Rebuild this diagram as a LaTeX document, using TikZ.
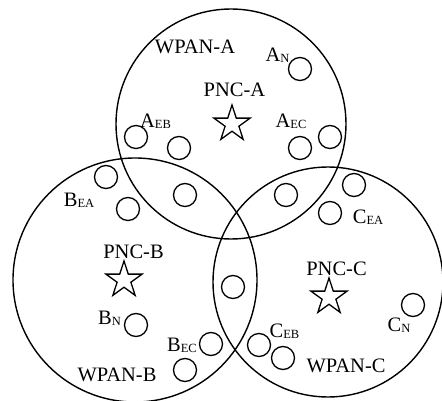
\documentclass[tikz,border=0pt]{standalone}
\usepackage{fontspec}
\setmainfont{Liberation Serif}
\usetikzlibrary{shapes.geometric}
\newcommand{\sbs}[1]{{\fontsize{12.5}{12.5}\selectfont\raisebox{-1pt}{#1}}}
\tikzset{
  bigc/.style={draw, circle, line width=1.4pt, inner sep=0pt},
  smallc/.style={draw, circle, line width=1.3pt, inner sep=0pt, minimum size=23pt},
  pnc/.style={draw, star, star points=5, star point ratio=2.618, line width=1.3pt, inner sep=0pt, minimum size=38pt},
  lbl/.style={font=\fontsize{20.5}{20.5}\selectfont, inner sep=0pt}
}
\begin{document}
\begin{tikzpicture}[x=1pt, y=-1pt]
\useasboundingbox (0,0) rectangle (442,401);
% big circles
\node[bigc, minimum size=230pt] (wA) at (231,124) {};
\node[bigc, minimum size=244pt] (wB) at (135,280) {};
\node[bigc, minimum size=230pt] (wC) at (328,282) {};
% stars
\node[pnc] (pA) at (232,124) {};
\node[pnc] (pB) at (124,280) {};
\node[pnc] (pC) at (329,297) {};
% small circles
\node[smallc] (an) at (300,69) {};
\node[smallc] (aeb) at (136,137) {};
\node[smallc] (a2) at (179,148) {};
\node[smallc] (aec) at (300,148) {};
\node[smallc] (a3) at (330,137) {};
\node[smallc] (ab1) at (106,177) {};
\node[smallc] (ab2) at (185,195) {};
\node[smallc] (bea) at (128,209) {};
\node[smallc] (bn) at (136,325) {};
\node[smallc] (bec) at (211,344) {};
\node[smallc] (b2) at (185,370) {};
\node[smallc] (ac1) at (286,195) {};
\node[smallc] (ac2) at (354,185) {};
\node[smallc] (cea) at (330,213) {};
\node[smallc] (bc1) at (233,287) {};
\node[smallc] (cn) at (413,305) {};
\node[smallc] (ceb) at (259,345) {};
\node[smallc] (c2) at (283,358) {};
% labels
\node[lbl] (lwA) at (195,47) {WPAN-A};
\node[lbl] (lan) at (277.5,55.5) {A\sbs{N}};
\node[lbl] (lpA) at (234.5,90) {PNC-A};
\node[lbl] (laeb) at (155.5,121) {A\sbs{EB}};
\node[lbl] (laec) at (291,121) {A\sbs{EC}};
\node[lbl] (lbea) at (79,200) {B\sbs{EA}};
\node[lbl] (lpB) at (133.5,252) {PNC-B};
\node[lbl] (lbn) at (109.5,318) {B\sbs{N}};
\node[lbl] (lbec) at (182,345) {B\sbs{EC}};
\node[lbl] (lwB) at (117,374.5) {WPAN-B};
\node[lbl] (lcea) at (368,217) {C\sbs{EA}};
\node[lbl] (lpC) at (336.5,268.5) {PNC-C};
\node[lbl] (lcn) at (399,325.5) {C\sbs{N}};
\node[lbl] (lceb) at (284.5,331.5) {C\sbs{EB}};
\node[lbl] (lwC) at (346,365.5) {WPAN-C};
\end{tikzpicture}
\end{document}
